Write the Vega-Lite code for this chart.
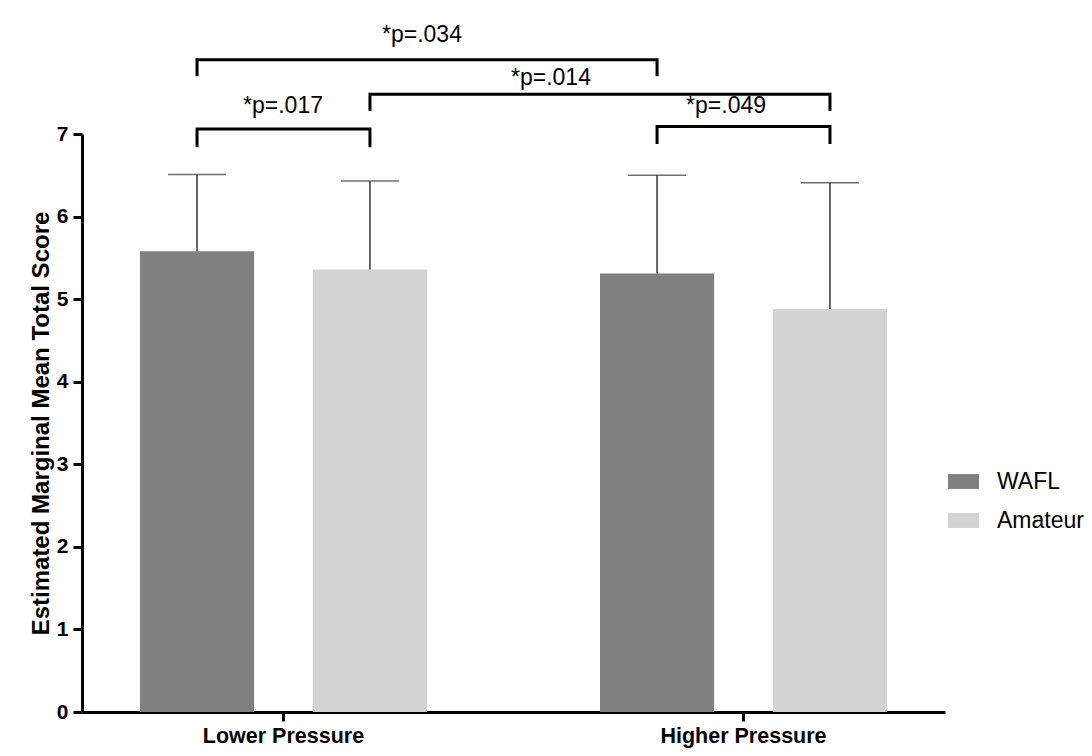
{
  "$schema": "https://vega.github.io/schema/vega-lite/v6.json",
  "width": 863,
  "height": 578,
  "autosize": {"type": "none"},
  "padding": {"left": 82, "top": 134, "right": 147, "bottom": 44},
  "background": "white",
  "config": {"font": "Liberation Sans", "view": {"stroke": null}},
  "datasets": {
    "bars": [
      {"Pressure": "Lower Pressure", "Group": "WAFL", "Mean": 5.58, "Upper": 6.51},
      {"Pressure": "Lower Pressure", "Group": "Amateur", "Mean": 5.36, "Upper": 6.43},
      {"Pressure": "Higher Pressure", "Group": "WAFL", "Mean": 5.31, "Upper": 6.50},
      {"Pressure": "Higher Pressure", "Group": "Amateur", "Mean": 4.88, "Upper": 6.41}
    ],
    "brackets": [
      {"id": "p017", "Pressure": "Lower Pressure", "Group": "WAFL", "y": 6.84, "ord": 1},
      {"id": "p017", "Pressure": "Lower Pressure", "Group": "WAFL", "y": 7.06, "ord": 2},
      {"id": "p017", "Pressure": "Lower Pressure", "Group": "Amateur", "y": 7.06, "ord": 3},
      {"id": "p017", "Pressure": "Lower Pressure", "Group": "Amateur", "y": 6.84, "ord": 4},
      {"id": "p034", "Pressure": "Lower Pressure", "Group": "WAFL", "y": 7.70, "ord": 1},
      {"id": "p034", "Pressure": "Lower Pressure", "Group": "WAFL", "y": 7.90, "ord": 2},
      {"id": "p034", "Pressure": "Higher Pressure", "Group": "WAFL", "y": 7.90, "ord": 3},
      {"id": "p034", "Pressure": "Higher Pressure", "Group": "WAFL", "y": 7.70, "ord": 4},
      {"id": "p014", "Pressure": "Lower Pressure", "Group": "Amateur", "y": 7.28, "ord": 1},
      {"id": "p014", "Pressure": "Lower Pressure", "Group": "Amateur", "y": 7.48, "ord": 2},
      {"id": "p014", "Pressure": "Higher Pressure", "Group": "Amateur", "y": 7.48, "ord": 3},
      {"id": "p014", "Pressure": "Higher Pressure", "Group": "Amateur", "y": 7.28, "ord": 4},
      {"id": "p049", "Pressure": "Higher Pressure", "Group": "WAFL", "y": 6.88, "ord": 1},
      {"id": "p049", "Pressure": "Higher Pressure", "Group": "WAFL", "y": 7.09, "ord": 2},
      {"id": "p049", "Pressure": "Higher Pressure", "Group": "Amateur", "y": 7.09, "ord": 3},
      {"id": "p049", "Pressure": "Higher Pressure", "Group": "Amateur", "y": 6.88, "ord": 4}
    ],
    "labels": [
      {"label": "*p=.034", "Pressure": "Lower Pressure", "Group": "Amateur", "y": 8.12},
      {"label": "*p=.017", "Pressure": "Lower Pressure", "Group": "WAFL", "y": 7.25},
      {"label": "*p=.014", "Pressure": "Lower Pressure", "Group": "Amateur", "y": 7.59},
      {"label": "*p=.049", "Pressure": "Higher Pressure", "Group": "WAFL", "y": 7.25}
    ]
  },
  "layer": [
    {
      "data": {"name": "bars"},
      "mark": {"type": "bar"},
      "encoding": {
        "x": {
          "field": "Pressure", "type": "nominal", "title": null,
          "scale": {"domain": ["Lower Pressure", "Higher Pressure"], "paddingInner": 0.376, "paddingOuter": 0.126},
          "axis": {"domainColor": "black", "domainWidth": 3, "tickColor": "black", "tickWidth": 3, "tickSize": 9, "labelFontSize": 21.5, "labelFontWeight": "bold", "labelColor": "black", "labelPadding": 4, "labelAngle": 0}
        },
        "xOffset": {"field": "Group", "type": "nominal", "scale": {"domain": ["WAFL", "Amateur"], "paddingInner": 0.34, "paddingOuter": 0}},
        "y": {
          "field": "Mean", "type": "quantitative", "title": "Estimated Marginal Mean Total Score",
          "scale": {"domain": [0, 7], "nice": false},
          "axis": {"values": [0, 1, 2, 3, 4, 5, 6, 7], "format": "d", "grid": false, "domainColor": "black", "domainWidth": 3, "tickColor": "black", "tickWidth": 3, "tickSize": 9, "labelFontSize": 21, "labelFontWeight": "bold", "labelColor": "black", "labelPadding": 5, "titleFontSize": 24, "titleFontWeight": "bold", "titleColor": "black", "titlePadding": 3}
        },
        "color": {
          "field": "Group", "type": "nominal",
          "scale": {"domain": ["WAFL", "Amateur"], "range": ["#808080", "#d3d3d3"]},
          "legend": {"orient": "none", "legendX": 866, "legendY": 332, "title": null, "symbolType": "M-1,-0.48H1V0.48H-1Z", "symbolSize": 961, "symbolStrokeWidth": 0, "labelFontSize": 23, "labelOffset": 18, "rowPadding": 11, "padding": 0, "labelColor": "black"}
        }
      }
    },
    {
      "data": {"name": "bars"},
      "mark": {"type": "rule", "color": "#333333", "strokeWidth": 1.5},
      "encoding": {
        "x": {"field": "Pressure", "type": "nominal", "title": null},
        "xOffset": {"field": "Group", "type": "nominal"},
        "y": {"field": "Mean", "type": "quantitative", "title": "Estimated Marginal Mean Total Score"},
        "y2": {"field": "Upper"}
      }
    },
    {
      "data": {"name": "bars"},
      "mark": {"type": "tick", "color": "#333333", "thickness": 1.5, "size": 58},
      "encoding": {
        "x": {"field": "Pressure", "type": "nominal", "title": null},
        "xOffset": {"field": "Group", "type": "nominal"},
        "y": {"field": "Upper", "type": "quantitative", "title": "Estimated Marginal Mean Total Score"}
      }
    },
    {
      "data": {"name": "brackets"},
      "mark": {"type": "line", "color": "black", "strokeWidth": 3, "strokeJoin": "miter", "strokeCap": "butt"},
      "encoding": {
        "x": {"field": "Pressure", "type": "nominal", "title": null},
        "xOffset": {"field": "Group", "type": "nominal"},
        "y": {"field": "y", "type": "quantitative", "title": "Estimated Marginal Mean Total Score"},
        "detail": {"field": "id"},
        "order": {"field": "ord", "type": "quantitative"}
      }
    },
    {
      "data": {"name": "labels"},
      "transform": [{"filter": "datum.label === '*p=.034'"}],
      "mark": {"type": "text", "fontSize": 23, "align": "center", "baseline": "alphabetic", "dx": 52, "color": "black"},
      "encoding": {
        "x": {"field": "Pressure", "type": "nominal", "title": null},
        "xOffset": {"field": "Group", "type": "nominal"},
        "y": {"field": "y", "type": "quantitative", "title": "Estimated Marginal Mean Total Score"},
        "text": {"field": "label"}
      }
    },
    {
      "data": {"name": "labels"},
      "transform": [{"filter": "datum.label === '*p=.017'"}],
      "mark": {"type": "text", "fontSize": 23, "align": "center", "baseline": "alphabetic", "dx": 86, "color": "black"},
      "encoding": {
        "x": {"field": "Pressure", "type": "nominal", "title": null},
        "xOffset": {"field": "Group", "type": "nominal"},
        "y": {"field": "y", "type": "quantitative", "title": "Estimated Marginal Mean Total Score"},
        "text": {"field": "label"}
      }
    },
    {
      "data": {"name": "labels"},
      "transform": [{"filter": "datum.label === '*p=.014'"}],
      "mark": {"type": "text", "fontSize": 23, "align": "center", "baseline": "alphabetic", "dx": 181, "color": "black"},
      "encoding": {
        "x": {"field": "Pressure", "type": "nominal", "title": null},
        "xOffset": {"field": "Group", "type": "nominal"},
        "y": {"field": "y", "type": "quantitative", "title": "Estimated Marginal Mean Total Score"},
        "text": {"field": "label"}
      }
    },
    {
      "data": {"name": "labels"},
      "transform": [{"filter": "datum.label === '*p=.049'"}],
      "mark": {"type": "text", "fontSize": 23, "align": "center", "baseline": "alphabetic", "dx": 69, "color": "black"},
      "encoding": {
        "x": {"field": "Pressure", "type": "nominal", "title": null},
        "xOffset": {"field": "Group", "type": "nominal"},
        "y": {"field": "y", "type": "quantitative", "title": "Estimated Marginal Mean Total Score"},
        "text": {"field": "label"}
      }
    }
  ]
}
